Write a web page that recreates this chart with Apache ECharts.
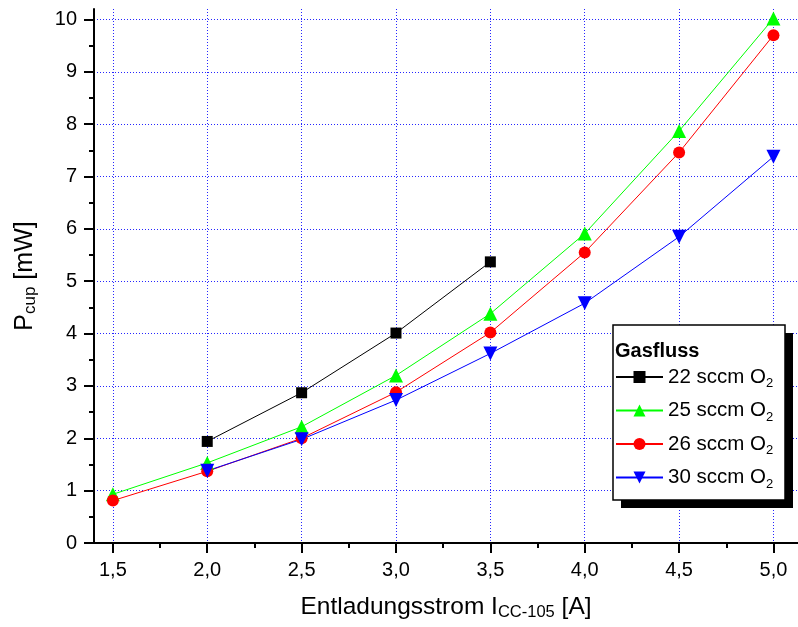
<!DOCTYPE html>
<html>
<head>
<meta charset="utf-8">
<script src="https://cdn.jsdelivr.net/npm/echarts@6/dist/echarts.min.js"></script>
<style>
	html, body { margin: 0; padding: 0; background: #fff; }
	#chart { width: 798px; height: 627px; }
</style>
</head>
<body>
<div id="chart"></div>
<script>
// Entladungsstrom [A]
var currentAll = [1.5, 2.0, 2.5, 3.0, 3.5, 4.0, 4.5, 5.0];
var current22 = [2.0, 2.5, 3.0, 3.5];
var current30 = [2.0, 2.5, 3.0, 3.5, 4.0, 4.5, 5.0];
// P_cup [mW]
var p22 = [1.94, 2.87, 4.01, 5.37];
var p25 = [0.93, 1.53, 2.22, 3.20, 4.38, 5.91, 7.87, 10.02];
var p26 = [0.81, 1.37, 2.00, 2.88, 4.02, 5.55, 7.46, 9.70];
var p30 = [1.38, 1.98, 2.73, 3.62, 4.58, 5.85, 7.38];

var seriesNames = ['22 sccm O2', '25 sccm O2', '26 sccm O2', '30 sccm O2'];
var xTicks = [1.5, 2.0, 2.5, 3.0, 3.5, 4.0, 4.5, 5.0];
var xMinorTicks = [1.75, 2.25, 2.75, 3.25, 3.75, 4.25, 4.75];
var yTicks = [0, 1, 2, 3, 4, 5, 6, 7, 8, 9, 10];
var yMinorTicks = [0.5, 1.5, 2.5, 3.5, 4.5, 5.5, 6.5, 7.5, 8.5, 9.5];

var font = 'Liberation Sans, Arial, sans-serif';

function pairs(xs, ys) {
	var out = [];
	for (var i = 0; i < xs.length; i++) {
		out.push([xs[i], ys[i]]);
	}
	return out;
}

function makeSeries(name, data, color, symbol, size, rotate) {
	return {
		name: name,
		type: 'line',
		data: data,
		symbol: symbol,
		symbolSize: size,
		symbolRotate: rotate || 0,
		showAllSymbol: true,
		lineStyle: { color: color, width: 1 },
		itemStyle: { color: color },
		emphasis: { disabled: true },
		z: 3
	};
}

var axisLineStyle = { color: '#000', width: 2 };
var gridLine = { show: true, lineStyle: { color: 'rgba(0,0,255,0.85)', width: 1, type: [1, 2] } };

var option = {
	animation: false,
	backgroundColor: '#fff',
	grid: {
		left: 94,
		right: 0,
		top: 9,
		bottom: 84,
		outerBoundsMode: 'none'
	},
	xAxis: [{
		type: 'value',
		min: 1.4,
		max: 5.13,
		name: 'Entladungsstrom I{sub|CC-105} [A]',
		nameLocation: 'middle',
		nameGap: 50,
		nameTextStyle: {
			fontSize: 24.5,
			fontFamily: font,
			color: '#000',
			lineHeight: 28,
			rich: {
				sub: { fontSize: 16.5, lineHeight: 16, verticalAlign: 'bottom', fontFamily: font, color: '#000' }
			}
		},
		axisLine: { show: true, onZero: false, lineStyle: axisLineStyle },
		axisTick: { show: true, customValues: xTicks, length: 10, lineStyle: { color: '#000', width: 2 } },
		axisLabel: {
			customValues: xTicks,
			margin: 17,
			fontSize: 20,
			fontFamily: font,
			color: '#000',
			formatter: function (v) { return v.toFixed(1).replace('.', ','); }
		},
		splitLine: gridLine
	}, {
		// kleine Striche
		type: 'value',
		min: 1.4,
		max: 5.13,
		position: 'bottom',
		axisLine: { show: false },
		axisTick: { show: true, customValues: xMinorTicks, length: 5, lineStyle: { color: '#000', width: 2 } },
		axisLabel: { show: false },
		splitLine: { show: false }
	}],
	yAxis: [{
		type: 'value',
		min: 0,
		max: 10.2,
		name: 'P{sub|cup} [mW]',
		nameLocation: 'middle',
		nameGap: 55,
		nameTextStyle: {
			fontSize: 25,
			fontFamily: font,
			color: '#000',
			lineHeight: 28,
			rich: {
				sub: { fontSize: 17, lineHeight: 17, verticalAlign: 'bottom', fontFamily: font, color: '#000' }
			}
		},
		axisLine: { show: true, onZero: false, lineStyle: axisLineStyle },
		axisTick: { show: true, customValues: yTicks, length: 10, lineStyle: { color: '#000', width: 2 } },
		axisLabel: {
			customValues: yTicks,
			margin: 17,
			fontSize: 20,
			fontFamily: font,
			color: '#000'
		},
		splitLine: gridLine
	}, {
		type: 'value',
		min: 0,
		max: 10.2,
		position: 'left',
		axisLine: { show: false },
		axisTick: { show: true, customValues: yMinorTicks, length: 5, lineStyle: { color: '#000', width: 2 } },
		axisLabel: { show: false },
		splitLine: { show: false }
	}],
	legend: {
		data: seriesNames,
		orient: 'vertical',
		left: 615,
		top: 364,
		padding: 0,
		itemGap: 7.5,
		itemWidth: 47,
		itemHeight: 15,
		z: 12,
		selectedMode: false,
		formatter: function (name) { return name.replace(/O2$/, 'O{sub|2}'); },
		textStyle: {
			fontSize: 20.5,
			fontFamily: font,
			color: '#000',
			lineHeight: 26,
			rich: {
				sub: { fontSize: 13, lineHeight: 13, verticalAlign: 'bottom', fontFamily: font, color: '#000' }
			}
		}
	},
	graphic: [{
		type: 'rect',
		z: 10,
		shape: { x: 621, y: 333, width: 172, height: 175 },
		style: { fill: '#000' }
	}, {
		type: 'rect',
		z: 11,
		shape: { x: 613, y: 325, width: 172, height: 175 },
		style: { fill: '#fff', stroke: '#000', lineWidth: 1.5 }
	}, {
		type: 'text',
		z: 12,
		x: 615,
		y: 341,
		style: { text: 'Gasfluss', fontSize: 20, fontWeight: 'bold', fontFamily: font, fill: '#000' }
	}],
	series: [
		makeSeries(seriesNames[0], pairs(current22, p22), '#000000', 'rect', 11),
		makeSeries(seriesNames[1], pairs(currentAll, p25), '#00ff00', 'triangle', 14),
		makeSeries(seriesNames[2], pairs(currentAll, p26), '#ff0000', 'circle', 12),
		makeSeries(seriesNames[3], pairs(current30, p30), '#0000ff', 'triangle', 14, 180)
	]
};

var dom = document.getElementById('chart');
var myChart = echarts.init(dom, null, { renderer: 'canvas' });
if (option && typeof option === 'object') {
	myChart.setOption(option, true);
}
</script>
</body>
</html>
